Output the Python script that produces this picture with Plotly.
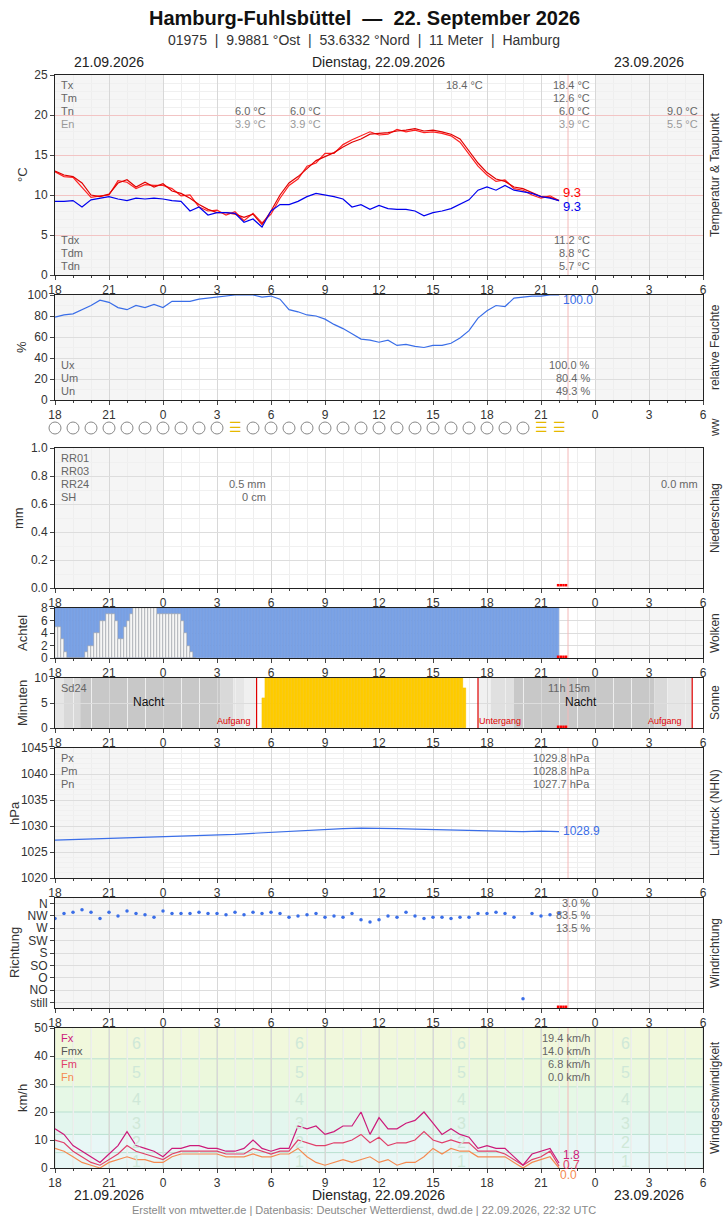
import plotly.graph_objects as go

W, H = 728, 1218
FONT = "Liberation Sans Narrow, Liberation Sans, Arial"

# ---------------- data ----------------
tick_vals = [0, 3, 6, 9, 12, 15, 18, 21, 24, 27, 30, 33, 36]
tick_text = ["18", "21", "0", "3", "6", "9", "12", "15", "18", "21", "0", "3", "6"]

t_half = [i * 0.5 for i in range(57)]  # hours since 21.09. 18:00 UTC
temp_air = [13.0, 12.5, 12.3, 11.5, 10.0, 9.8, 10.1, 11.5, 11.9, 11.0, 11.6, 11.0, 11.4,
            10.5, 10.2, 9.6, 8.8, 8.2, 7.8, 7.8, 7.6, 7.2, 7.6, 6.3, 8.0,
            10.0, 11.5, 12.3, 13.3, 14.3, 14.8, 15.3, 16.0, 16.6, 17.0, 17.6, 17.7,
            17.8, 18.0, 18.1, 18.3, 18.0, 18.1, 17.9, 17.6, 17.0, 15.5, 14.0, 12.8,
            12.0, 11.7, 11.0, 10.8, 10.3, 9.8, 9.7, 9.3]
temp_2 = [12.9, 12.3, 12.2, 11.0, 9.7, 9.9, 10.0, 11.8, 11.6, 10.8, 11.3, 11.2, 11.2,
          10.8, 9.9, 10.0, 8.5, 8.0, 8.1, 7.5, 7.9, 6.8, 7.7, 6.5, 7.6,
          9.6, 11.2, 12.0, 13.6, 14.0, 15.2, 15.2, 16.3, 16.9, 17.4, 17.9, 17.5,
          17.6, 18.2, 17.9, 18.1, 17.8, 17.9, 17.7, 17.4, 16.6, 15.1, 13.6, 12.5,
          11.7, 11.9, 10.8, 10.6, 10.0, 9.6, 9.9, 9.3]
dewpoint = [9.2, 9.2, 9.3, 8.5, 9.4, 9.6, 9.8, 9.5, 9.3, 9.6, 9.5, 9.6, 9.5,
            9.3, 9.2, 8.0, 8.5, 7.5, 7.8, 7.8, 7.7, 6.6, 7.0, 6.0, 8.0,
            8.8, 8.8, 9.2, 9.8, 10.2, 10.0, 9.8, 9.5, 8.5, 8.8, 8.2, 8.7,
            8.3, 8.2, 8.2, 8.0, 7.4, 7.8, 8.0, 8.3, 8.8, 9.4, 10.6, 11.0,
            10.6, 11.2, 10.6, 10.4, 10.2, 9.8, 9.6, 9.3]
humidity = [79, 81, 82, 86, 90, 95, 93, 88, 86, 90, 88, 91, 88,
            94, 94, 94, 96, 97, 98, 99, 100, 100, 100, 98, 99,
            96, 86, 84, 81, 80, 77, 72, 68, 63, 58, 57, 55,
            57, 52, 53, 51, 50, 52, 52, 54, 59, 66, 78, 85,
            90, 89, 97, 98, 99, 99, 100, 100]
t_hour = list(range(29))
ww_symbols = ["o"] * 10 + ["fog"] + ["o"] * 16 + ["fog", "fog"]
pressure = [1027.3, 1027.4, 1027.5, 1027.6, 1027.7, 1027.8, 1027.9, 1028.0, 1028.2, 1028.3,
            1028.4, 1028.6, 1028.8, 1029.0, 1029.2, 1029.4, 1029.5, 1029.6, 1029.6, 1029.5,
            1029.4, 1029.3, 1029.2, 1029.1, 1029.0, 1029.0, 1028.9, 1029.0, 1028.9]
wind_dir = [6.8, 7.2, 7.3, 7.5, 7.3, 6.8, 7.3, 7.0, 7.4, 7.2, 7.1, 6.9, 7.4,
            7.2, 7.2, 7.2, 7.3, 7.2, 7.2, 7.1, 7.3, 7.1, 7.3, 7.2, 7.3,
            7.2, 6.9, 7.0, 7.1, 7.2, 6.9, 7.0, 6.9, 7.2, 6.7, 6.5, 6.7,
            7.0, 6.9, 7.3, 7.0, 6.8, 6.9, 6.9, 6.8, 6.9, 6.9, 7.2, 7.2,
            7.3, 7.2, 6.9, 0.3, 7.2, 7.0, 7.1, 7.2]
dir_labels = ["still", "NO", "O", "SO", "S", "SW", "W", "NW", "N"]
wind_fx = [14, 12, 8, 6, 4, 2, 5, 8, 13, 8, 7, 6, 4, 7, 7, 8, 8, 7, 7, 6, 6, 7, 10, 7, 6,
           7, 7, 15, 14, 15, 12, 13, 15, 15, 20, 12, 18, 14, 14, 16, 17, 20, 16, 12, 14, 12,
           11, 7, 8, 7, 7, 4, 1, 5, 6, 7, 1.8]
wind_fm = [10, 9, 6, 4, 2, 1, 3, 5, 8, 6, 5, 4, 3, 5, 6, 6, 6, 6, 6, 5, 5, 5, 7, 6, 5,
           6, 6, 10, 9, 8, 8, 9, 9, 10, 12, 9, 11, 8, 9, 9, 10, 13, 10, 9, 10, 9,
           9, 6, 6, 6, 5, 3, 1, 3, 4, 6, 0.7]
wind_fn = [7, 6, 4, 2, 1, 0, 2, 3, 4, 3, 3, 2, 2, 4, 5, 5, 5, 5, 5, 4, 4, 4, 5, 4, 4,
           5, 5, 7, 4, 2, 1, 2, 3, 2, 3, 4, 2, 3, 1, 2, 2, 4, 7, 5, 7, 6, 6, 4, 4, 4,
           4, 2, 0, 2, 3, 4, 0]
t_10 = [i / 6 for i in range(168)]
cloud_total = [8] * 168
cloud_low = [5, 5, 3, 1, 0, 0, 0, 0, 0, 0, 1, 2, 2, 4, 4, 6, 6, 7, 7, 7, 6, 3, 3, 5, 6, 7,
             8, 8, 8, 8, 8, 8, 8, 8, 7, 7, 7, 7, 7, 7, 7, 7, 6, 4, 2, 1, 0]
sun_start = 11.5
sun_minutes = [6] + [10] * 66 + [8]
beaufort_edges = [0, 12, 20, 29, 39, 50]
beaufort_colors = ["#e8f7f6", "#e3f6ee", "#e6f8e6", "#ecf8dc", "#f1f8dc"]

# ---------------- helpers ----------------
def XP(px): return px / W
def YP(py): return 1 - py / H

panels = {  # name: (axis index, top px, bottom px)
    "temp": (1, 75, 275), "hum": (2, 295, 400), "ww": (3, 418, 438),
    "rr": (4, 448, 588), "cl": (5, 608, 658), "sun": (6, 678, 728),
    "p": (7, 748, 878), "dir": (8, 898, 1008), "wind": (9, 1028, 1168)}
XL, XR = 55, 703

fig = go.Figure()
layout = dict(width=W, height=H, margin=dict(l=0, r=0, t=0, b=0, autoexpand=False), showlegend=False,
              paper_bgcolor="white", plot_bgcolor="white", font=dict(family=FONT, size=12, color="#333"),
              barmode="overlay", bargap=0)
shapes, annots = [], []

def ax(n, s):
    return s if n == 1 else s + str(n)

for name, (n, top, bot) in panels.items():
    xk, yk = ax(n, "xaxis"), ax(n, "yaxis")
    is_ww = name == "ww"
    layout[xk] = dict(domain=[XP(XL), XP(XR)], range=[0, 36], anchor=ax(n, "y"), automargin=False,
                      tickvals=tick_vals, ticktext=tick_text, showline=not is_ww, mirror=True,
                      linecolor="#222", ticks="" if is_ww else "outside", ticklen=4,
                      showticklabels=not is_ww, showgrid=not is_ww, gridcolor="#d8d8d8",
                      minor=dict(dtick=1, showgrid=not is_ww, gridcolor="#eeeeee",
                                 ticks="" if is_ww else "outside", ticklen=2),
                      zeroline=False, tickfont=dict(size=12, color="#333"), fixedrange=True)
    layout[yk] = dict(domain=[YP(bot), YP(top)], anchor=ax(n, "x"), showline=not is_ww, mirror=True,
                      automargin=False,
                      linecolor="#222", ticks="" if is_ww else "outside", ticklen=4, zeroline=False,
                      showgrid=not is_ww, gridcolor="#dddddd", showticklabels=not is_ww,
                      tickfont=dict(size=12, color="#333"), fixedrange=True)
    xr, yr = ax(n, "x"), ax(n, "y")
    if name not in ("ww", "sun", "wind"):
        for a, b in [(0, 6), (30, 36)]:
            shapes.append(dict(type="rect", xref=xr, yref=yr + " domain", x0=a, x1=b, y0=0, y1=1,
                               fillcolor="#f5f5f5", line_width=0, layer="below"))
    if name != "ww":
        shapes.append(dict(type="line", xref=xr, yref=yr + " domain", x0=28.5, x1=28.5, y0=0, y1=1,
                           line=dict(color="#f4b8b8", width=1), layer="above"))

layout["yaxis"].update(range=[0, 25], dtick=5, gridcolor="#f2c4c4", minor=dict(dtick=1, showgrid=True, gridcolor="#f0f0f0"))
layout["yaxis2"].update(range=[0, 100], dtick=20, minor=dict(dtick=10, showgrid=True, gridcolor="#f0f0f0"))
layout["yaxis3"].update(range=[0, 1])
layout["yaxis4"].update(range=[0, 1], dtick=0.2, tickformat=".1f", minor=dict(dtick=0.1, showgrid=True, gridcolor="#f0f0f0"))
layout["yaxis5"].update(range=[0, 8], dtick=2)
layout["yaxis6"].update(range=[0, 10], dtick=5)
layout["yaxis7"].update(range=[1020, 1045], dtick=5, minor=dict(dtick=1, showgrid=True, gridcolor="#f0f0f0"))
layout["yaxis8"].update(range=[-0.45, 8.45], tickvals=list(range(9)), ticktext=dir_labels)
layout["yaxis9"].update(range=[0, 50], dtick=10, showgrid=False)

# ---------------- traces ----------------
fig.add_trace(go.Scatter(x=t_half, y=temp_2, mode="lines", line=dict(color="#ff2020", width=1.2), xaxis="x", yaxis="y"))
fig.add_trace(go.Scatter(x=t_half, y=temp_air, mode="lines", line=dict(color="#e00000", width=1.2), xaxis="x", yaxis="y"))
fig.add_trace(go.Scatter(x=t_half, y=dewpoint, mode="lines", line=dict(color="#0000ee", width=1.2), xaxis="x", yaxis="y"))
fig.add_trace(go.Scatter(x=t_half, y=humidity, mode="lines", line=dict(color="#3a6ee8", width=1.2), xaxis="x2", yaxis="y2"))

circ_x = [t for t, s in zip(t_hour, ww_symbols) if s == "o"]
fog_x = [t for t, s in zip(t_hour, ww_symbols) if s == "fog"]
fig.add_trace(go.Scatter(x=circ_x, y=[0.5] * len(circ_x), mode="markers", xaxis="x3", yaxis="y3", cliponaxis=False,
                         marker=dict(symbol="circle-open", size=12, color="#888", line=dict(width=1))))
fig.add_trace(go.Scatter(x=fog_x, y=[0.5] * len(fog_x), mode="text", text=["☰"] * len(fog_x), xaxis="x3", yaxis="y3",
                         cliponaxis=False, textfont=dict(size=14, color="#e6b800")))

fig.add_trace(go.Bar(x=[t + 1 / 12 for t in t_10], y=cloud_total, width=1 / 6, xaxis="x5", yaxis="y5",
                     marker=dict(color="#7ba3e6", line=dict(color="#6a90d8", width=0.4))))
fig.add_trace(go.Bar(x=[t_10[i] + 1 / 12 for i in range(len(cloud_low))], y=cloud_low, width=1 / 6,
                     xaxis="x5", yaxis="y5", marker=dict(color="#f6f6f6", line=dict(color="#999", width=0.5))))

for a, b, c in [(0, 0.5, "#e6e6e6"), (0.5, 1.4, "#d9d9d9"), (1.4, 9.2, "#c8c8c8"), (9.2, 9.9, "#d9d9d9"),
                (9.9, 10.5, "#e6e6e6"), (10.5, 11.2, "#f0f0f0"), (23.5, 24.2, "#f0f0f0"), (24.2, 25.5, "#e0e0e0"),
                (25.5, 33.3, "#c8c8c8"), (33.3, 34.0, "#d9d9d9"), (34.0, 35.4, "#e6e6e6")]:
    shapes.append(dict(type="rect", xref="x6", yref="y6", x0=a, x1=b, y0=0, y1=10, fillcolor=c, line_width=0, layer="below"))
for xs in [11.2, 23.5, 35.4]:
    shapes.append(dict(type="line", xref="x6", yref="y6", x0=xs, x1=xs, y0=0, y1=10, line=dict(color="#e00000", width=1.2)))
fig.add_trace(go.Bar(x=[sun_start + i / 6 + 1 / 12 for i in range(len(sun_minutes))], y=sun_minutes, width=1 / 6,
                     xaxis="x6", yaxis="y6", marker=dict(color="#ffcc00", line=dict(color="#f0c000", width=0.3))))

fig.add_trace(go.Scatter(x=t_hour, y=pressure, mode="lines", line=dict(color="#3a6ee8", width=1.2), xaxis="x7", yaxis="y7"))
fig.add_trace(go.Scatter(x=t_half, y=wind_dir, mode="markers", marker=dict(color="#3a6ee8", size=3.5), xaxis="x8", yaxis="y8"))

for i, c in enumerate(beaufort_colors):
    shapes.append(dict(type="rect", xref="x9", yref="y9", x0=0, x1=36, y0=beaufort_edges[i], y1=beaufort_edges[i + 1],
                       fillcolor=c, line_width=0, layer="below"))
for e in [5.5] + beaufort_edges[1:5]:
    shapes.append(dict(type="line", xref="x9", yref="y9", x0=0, x1=36, y0=e, y1=e, line=dict(color="#b9e0d0", width=1), layer="below"))
for xg in range(0, 37):
    shapes.append(dict(type="line", xref="x9", yref="y9", x0=xg, x1=xg, y0=0, y1=50,
                       line=dict(color="#cfd8cf" if xg % 3 == 0 else "#e2ebe2", width=1), layer="below"))
for bx in [4.5, 13.6, 22.6, 31.7]:
    for lab, yy in zip(["1", "2", "3", "4", "5", "6"], [2.5, 9, 16, 24.5, 34, 44.5]):
        annots.append(dict(x=bx, y=yy, xref="x9", yref="y9", text=lab, showarrow=False,
                           font=dict(size=16, color="#cfe8d8")))
fig.add_trace(go.Scatter(x=t_half, y=wind_fn, mode="lines", line=dict(color="#f58a50", width=1.2), xaxis="x9", yaxis="y9"))
fig.add_trace(go.Scatter(x=t_half, y=wind_fm, mode="lines", line=dict(color="#e0406a", width=1.2), xaxis="x9", yaxis="y9"))
fig.add_trace(go.Scatter(x=t_half, y=wind_fx, mode="lines", line=dict(color="#cc1a7a", width=1.2), xaxis="x9", yaxis="y9"))

for n, yy in [(4, 0.02), (5, 0.2), (6, 0.25), (8, -0.35)]:
    fig.add_trace(go.Scatter(x=[27.95, 28.1, 28.25, 28.4], y=[yy] * 4, mode="markers", xaxis=f"x{n}", yaxis=f"y{n}",
                             marker=dict(symbol="square", size=2.5, color="#ff0000")))

# ---------------- text ----------------
def txt(x, y, s, size=12, color="#333", anchor="center", bold=False, angle=0, family=FONT):
    annots.append(dict(x=XP(x), y=YP(y), xref="paper", yref="paper", text=f"<b>{s}</b>" if bold else s,
                       showarrow=False, xanchor=anchor, yanchor="middle", textangle=angle,
                       font=dict(size=size, color=color, family=family)))

SANS = "Liberation Sans, Arial"
txt(364, 18, "Hamburg-Fuhlsbüttel  —  22. September 2026", 20, "#111", bold=True, family=SANS)
txt(364, 40, "01975  |  9.9881 °Ost  |  53.6332 °Nord  |  11 Meter  |  Hamburg", 14, "#333", family=SANS)
for yy in (62, 1195):
    txt(109, yy, "21.09.2026", 14, "#222"); txt(378, yy, "Dienstag, 22.09.2026", 14, "#222"); txt(649, yy, "23.09.2026", 14, "#222")
txt(364, 1210, "Erstellt von mtwetter.de | Datenbasis: Deutscher Wetterdienst, dwd.de | 22.09.2026, 22:32 UTC", 11, "#888", family=SANS)

for s, yy, xx in [("°C", 175, 22), ("%", 347, 22), ("mm", 518, 18), ("Achtel", 633, 22), ("Minuten", 703, 22),
                  ("hPa", 813, 14), ("Richtung", 953, 14), ("km/h", 1098, 22)]:
    txt(xx, yy, s, 13, "#333", angle=-90)
for s, yy in [("Temperatur & Taupunkt", 175), ("relative Feuchte", 347), ("ww", 428), ("Niederschlag", 518), ("Wolken", 633),
              ("Sonne", 703), ("Luftdruck (NHN)", 813), ("Windrichtung", 953), ("Windgeschwindigkeit", 1098)]:
    txt(715, yy, s, 12, "#333", angle=-90)

G = "#666"
def left(y, s, c=G): txt(59, y, s, 11, c, anchor="left")
def right(x, y, s, c=G): txt(x, y, s, 11, c, anchor="right")

for s, y in [("Tx", 85), ("Tm", 98), ("Tn", 111)]: left(y, s)
left(124, "En", "#999")
right(485, 85, "18.4 °C"); right(592, 85, "18.4 °C"); right(592, 98, "12.6 °C")
right(268, 111, "6.0 °C"); right(323, 111, "6.0 °C"); right(592, 111, "6.0 °C"); right(700, 111, "9.0 °C")
right(268, 124, "3.9 °C", "#999"); right(323, 124, "3.9 °C", "#999"); right(592, 124, "3.9 °C", "#999"); right(700, 124, "5.5 °C", "#999")
for s, y, v in [("Tdx", 240, "11.2 °C"), ("Tdm", 253, "8.8 °C"), ("Tdn", 266, "5.7 °C")]:
    left(y, s); right(592, y, v)
txt(561, 193, "9.3", 13, "#ff0000", anchor="left"); txt(561, 207, "9.3", 13, "#0000ee", anchor="left")
for s, y, v in [("Ux", 365, "100.0 %"), ("Um", 378, "80.4 %"), ("Un", 391, "49.3 %")]:
    left(y, s); right(592, y, v)
txt(561, 300, "100.0", 12, "#3a6ee8", anchor="left")
for s, y in [("RR01", 458), ("RR03", 471), ("RR24", 484), ("SH", 497)]: left(y, s)
right(268, 484, "0.5 mm"); right(268, 497, "0 cm"); right(700, 484, "0.0 mm")
left(688, "Sd24"); right(592, 688, "11h 15m")
txt(149, 702, "Nacht", 12, "#111"); txt(581, 702, "Nacht", 12, "#111")
txt(253, 721, "Aufgang", 9, "#e00000", anchor="right"); txt(477, 721, "Untergang", 9, "#e00000", anchor="left")
txt(684, 721, "Aufgang", 9, "#e00000", anchor="right")
for s, y, v in [("Px", 758, "1029.8 hPa"), ("Pm", 771, "1028.8 hPa"), ("Pn", 784, "1027.7 hPa")]:
    left(y, s); right(592, y, v)
txt(561, 831, "1028.9", 12, "#3a6ee8", anchor="left")
right(592, 903, "3.0 %"); right(592, 915, "83.5 %"); right(592, 928, "13.5 %")
for s, y, v, c in [("Fx", 1038, "19.4 km/h", "#cc1a7a"), ("Fmx", 1051, "14.0 km/h", "#555"),
                   ("Fm", 1064, "6.8 km/h", "#e0406a"), ("Fn", 1077, "0.0 km/h", "#f58a50")]:
    left(y, s, c); right(592, y, v)
txt(561, 1155, "1.8", 12, "#cc1a7a", anchor="left"); txt(561, 1165, "0.7", 12, "#e0406a", anchor="left")
txt(558, 1175, "0.0", 12, "#f58a50", anchor="left")

layout["shapes"] = shapes
layout["annotations"] = annots
fig.update_layout(**layout)
fig.write_html("out.html", config={"displayModeBar": False},
               post_script="document.body.style.margin='0';document.body.style.padding='0';document.body.style.overflow='hidden';")
